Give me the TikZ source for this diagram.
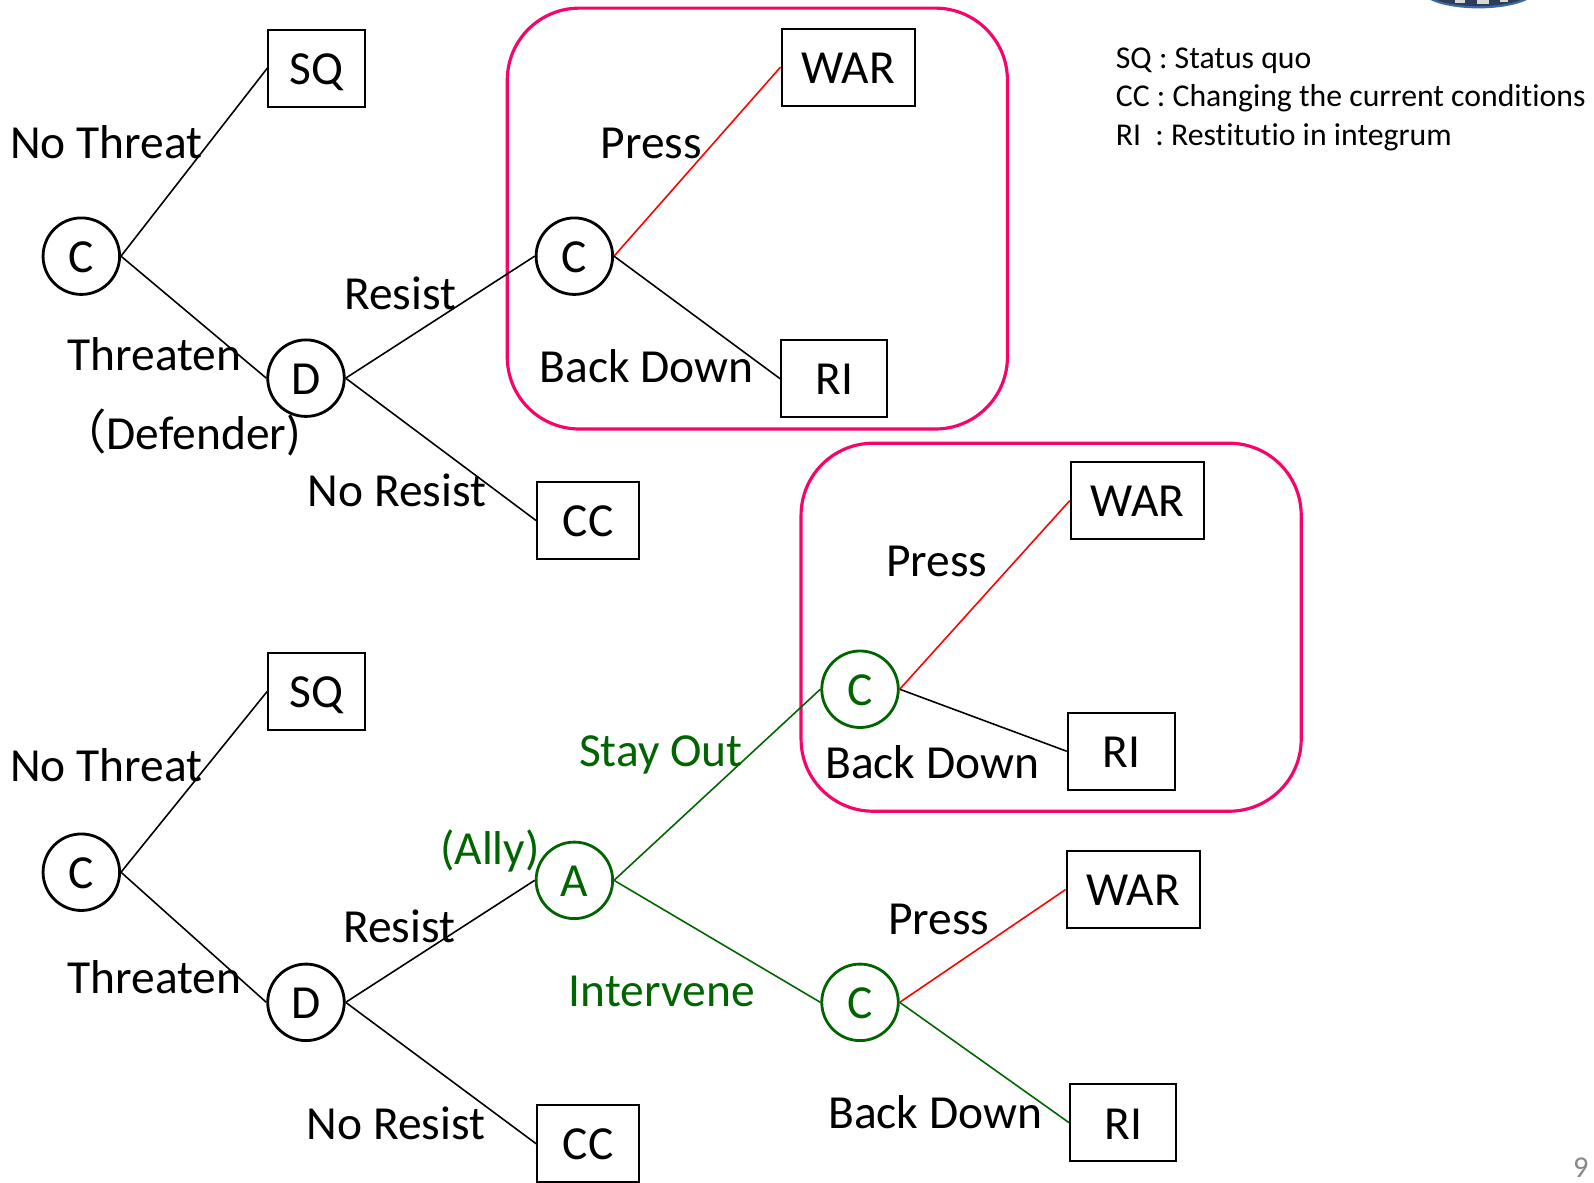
\documentclass[tikz,border=0pt]{standalone}
\usepackage{fontspec}
\setmainfont[Ligatures=NoCommon]{Carlito}
\newfontfamily\cjkfont{Noto Sans CJK JP}
\definecolor{framepink}{RGB}{245,5,105}
\definecolor{allygreen}{RGB}{0,100,0}
\definecolor{logonavy}{RGB}{45,60,90}
\definecolor{logoblue}{RGB}{60,105,160}
\definecolor{logopale}{RGB}{215,215,215}
\definecolor{pagegray}{RGB}{135,135,135}
\tikzset{
  choice/.style={circle,draw,line width=0.8pt,minimum size=0.765cm,inner sep=0pt,text height=9.25pt,text depth=0pt,font=\fontsize{13.5}{16}\selectfont},
  outcome/.style={rectangle,draw,line width=0.6pt,minimum height=0.77cm,inner sep=0pt,text height=9.25pt,text depth=0pt,font=\fontsize{13.5}{16}\selectfont},
  move/.style={inner sep=0pt,font=\fontsize{13.5}{16}\selectfont},
  legend/.style={anchor=west,inner sep=0pt,font=\fontsize{9.03}{11}\selectfont},
  pinkframe/.style={draw=framepink,line width=0.9pt,rounded corners=0.72cm},
  branch/.style={line width=0.45pt}
}
\begin{document}
\begin{tikzpicture}[x=0.010166cm,y=-0.010166cm]
  \useasboundingbox (0,0) rectangle (1568,1163);
  % logo at the top edge
  \fill[logoblue] (1407,0) .. controls (1430,11) and (1479,11) .. (1502,0) -- cycle;
  \fill[logonavy] (1413,0) .. controls (1433,8) and (1476,8) .. (1496,0) -- cycle;
  \fill[logopale] (1431,0) rectangle (1441,3);
  \fill[logopale] (1453,0) rectangle (1465,4);
  \fill[logopale] (1476,0) rectangle (1483,2);
  % frames
  \draw[pinkframe] (499,8) rectangle (991,422);
  \draw[pinkframe] (788,436) rectangle (1280,798);
  % upper tree
  \node[choice] (c1) at (80,252) {C};
  \node[choice] (d1) at (301,372) {D};
  \node[choice] (c2) at (565,252) {C};
  \node[outcome,minimum width=0.965cm] (sq1) at (311.5,67) {SQ};
  \node[outcome,minimum width=1.335cm] (war1) at (834.5,66) {WAR};
  \node[outcome,minimum width=1.06cm] (ri1) at (820.5,372.5) {RI};
  \node[outcome,minimum width=1.02cm] (cc1) at (578.5,512) {CC};
  \draw[branch] (c1.east) -- (sq1.west);
  \draw[branch] (c1.east) -- (d1.west);
  \draw[branch] (d1.east) -- (c2.west);
  \draw[branch] (d1.east) -- (cc1.west);
  \draw[branch,color=red] (c2.east) -- (war1.west);
  \draw[branch] (c2.east) -- (ri1.west);
  \node[move] (nothreat1) at (104.5,140) {No Threat};
  \node[move] (threaten1) at (152,348) {Threaten};
  \node[move] (defender) at (177,425) {{\cjkfont （}Defender)};
  \node[move] (resist1) at (393.5,289) {Resist};
  \node[move] (noresist1) at (390.5,482) {No Resist};
  \node[move] (press1) at (640.5,141) {Press};
  \node[move] (backdown1) at (636,360) {Back Down};
  % lower tree
  \node[choice] (c3) at (80,858) {C};
  \node[choice] (d2) at (301,986) {D};
  \node[choice,draw=allygreen,text=allygreen] (a1) at (565,866) {A};
  \node[choice,draw=allygreen,text=allygreen] (c4) at (846,678) {C};
  \node[choice,draw=allygreen,text=allygreen] (c5) at (846,986) {C};
  \node[outcome,minimum width=0.965cm] (sq2) at (311.5,680) {SQ};
  \node[outcome,minimum width=1.335cm] (war2) at (1119,492.5) {WAR};
  \node[outcome,minimum width=1.07cm] (ri2) at (1103,739) {RI};
  \node[outcome,minimum width=1.335cm] (war3) at (1115,875) {WAR};
  \node[outcome,minimum width=1.06cm] (ri3) at (1105,1104.5) {RI};
  \node[outcome,minimum width=1.02cm] (cc2) at (578.5,1125) {CC};
  \draw[branch] (c3.east) -- (sq2.west);
  \draw[branch] (c3.east) -- (d2.west);
  \draw[branch] (d2.east) -- (a1.west);
  \draw[branch] (d2.east) -- (cc2.west);
  \draw[branch,color=allygreen] (a1.east) -- (c4.west);
  \draw[branch,color=allygreen] (a1.east) -- (c5.west);
  \draw[branch,color=red] (c4.east) -- (war2.west);
  \draw[branch] (c4.east) -- (ri2.west);
  \draw[branch,color=red] (c5.east) -- (war3.west);
  \draw[branch,color=allygreen] (c5.east) -- (ri3.west);
  \node[move] (nothreat2) at (104.5,753) {No Threat};
  \node[move] (threaten2) at (152,961) {Threaten};
  \node[move] (resist2) at (392.5,911) {Resist};
  \node[move] (noresist2) at (389.5,1105) {No Resist};
  \node[move,text=allygreen] (ally) at (482,837) {(Ally)};
  \node[move,text=allygreen] (stayout) at (650,743) {Stay Out};
  \node[move,text=allygreen] (intervene) at (651,975) {Intervene};
  \node[move] (press2) at (921.5,552) {Press};
  \node[move] (backdown2) at (917,750) {Back Down};
  \node[move] (press3) at (923.5,904) {Press};
  \node[move] (backdown3) at (920,1094) {Back Down};
  % legend
  \node[legend] (legsq) at (1097,60) {SQ : Status quo};
  \node[legend] (legcc) at (1097,97) {CC : Changing the current conditions};
  \node[legend] (legri) at (1097,135) {RI\ \ : Restitutio in integrum};
  \node[inner sep=0pt,text=pagegray,font=\fontsize{8.6}{10}\selectfont] (pagenum) at (1555,1149) {9};
\end{tikzpicture}
\end{document}
